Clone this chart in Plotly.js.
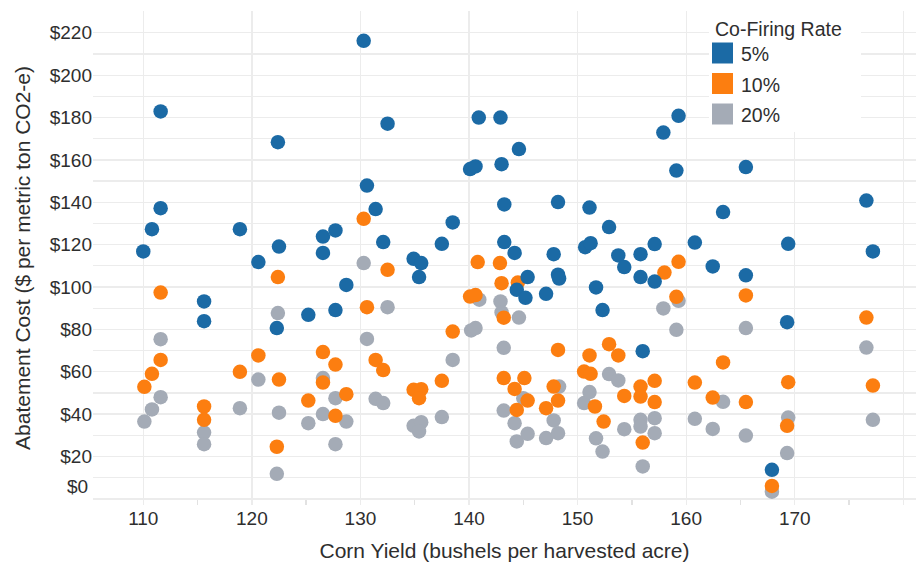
<!DOCTYPE html>
<html>
<head>
<meta charset="utf-8">
<script src="https://cdn.plot.ly/plotly-3.0.1.min.js"></script>
<style>html,body{margin:0;padding:0;background:#fff;}#chart{width:916px;height:565px;}</style>
</head>
<body>
<div id="chart"></div>
<script>
// ---- data ----
const seriesNames = ["5%", "10%", "20%"];
const seriesColors = ["#1b6aa5", "#fc7e10", "#a4abb6"];

const yield5 = [110.0,110.8,111.6,111.6,115.6,115.6,118.9,120.6,122.3,122.4,122.5,125.2,126.55,126.55,127.7,127.7,128.7,130.3,130.6,131.4,132.1,132.5,134.9,135.6,135.4,137.5,138.5,140.1,140.6,140.9,142.9,143.0,143.25,143.25,144.2,144.6,144.4,145.2,145.4,147.1,147.8,148.2,148.2,148.3,150.7,151.1,151.2,151.7,152.3,152.9,153.75,154.3,155.8,155.8,156.0,157.1,157.1,157.9,159.1,159.3,160.8,162.45,163.4,165.5,165.5,167.9,169.3,169.4,176.6,177.2];
const cost5  = [116.8,127.3,137.2,182.9,93.2,83.9,127.3,111.8,80.6,168.4,119.1,86.9,123.8,116.1,126.7,89.1,101.0,216.2,147.9,136.8,121.2,177.1,113.3,111.3,104.7,120.4,130.5,155.7,156.9,180.0,180.0,158.0,139.0,121.2,116.1,165.1,98.7,94.9,104.7,96.8,115.5,140.1,105.8,104.0,118.8,137.5,120.7,99.8,89.1,128.3,114.9,109.4,115.5,104.7,69.7,120.3,102.6,172.9,155.0,180.8,121.0,109.7,135.4,156.6,105.5,13.7,83.4,120.4,140.8,116.8];

const yield10 = [110.1,110.8,111.6,111.6,115.6,115.6,118.9,120.6,122.3,122.4,122.5,125.2,126.55,126.55,127.7,127.7,128.7,130.3,130.6,131.4,132.1,132.5,134.9,135.6,135.4,137.5,138.5,140.1,140.6,140.8,142.85,143.0,143.2,143.2,144.2,144.4,144.5,145.1,145.4,147.1,147.8,148.2,148.2,150.6,151.1,151.2,151.6,152.4,152.9,153.75,154.3,155.8,155.8,156.0,157.1,157.1,158.0,159.1,159.3,160.8,162.45,163.4,165.5,165.5,167.9,169.3,169.4,176.6,177.2];
const cost10  = [52.9,59.0,65.6,97.4,43.6,37.3,60.0,67.7,24.6,104.7,56.3,46.4,69.3,54.9,63.4,39.2,49.4,132.2,90.5,65.6,60.8,108.1,51.5,51.8,47.5,55.7,79.0,95.5,96.2,111.8,111.3,101.8,85.5,57.0,51.9,42.0,102.1,57.0,46.4,42.8,53.0,70.3,46.4,60.1,67.7,59.0,43.6,36.5,73.0,67.7,48.6,53.0,48.3,26.6,55.7,45.7,106.8,95.4,111.9,54.9,47.8,64.4,96.0,45.7,6.1,34.5,55.1,85.6,53.5];

const yield20 = [110.1,110.8,111.6,111.6,115.6,115.6,118.9,120.6,122.3,122.4,122.5,125.2,126.55,126.55,127.7,127.7,128.7,130.3,130.6,131.4,132.1,132.5,134.9,135.6,135.4,137.5,138.5,140.2,140.6,140.95,142.9,143.0,143.2,143.2,144.2,144.4,144.6,145.0,145.4,147.1,147.8,148.3,148.2,150.6,151.1,151.7,152.3,152.9,153.75,154.3,155.8,155.8,156.0,157.1,157.1,157.9,159.1,159.3,160.8,162.45,163.4,165.5,165.5,167.9,169.3,169.4,176.6,177.2];
const cost20  = [36.5,42.2,48.0,75.4,31.3,25.8,42.8,56.3,11.8,87.7,40.7,35.7,57.0,40.0,47.5,25.8,36.5,111.3,75.5,47.2,45.2,90.5,34.5,36.2,31.8,38.6,65.6,79.5,80.6,94.0,93.2,88.0,71.3,41.7,35.7,27.1,85.6,47.5,30.7,28.7,37.0,53.0,31.0,45.2,50.4,28.6,22.3,58.9,55.9,32.9,37.3,34.1,15.3,38.1,31.0,89.9,79.8,93.5,37.8,33.0,45.8,80.6,29.9,3.4,21.6,38.4,71.4,37.3];

const yTickVals = [20,40,60,80,100,120,140,160,180,200,220];
const yTickText = ["$20","$40","$60","$80","$100","$120","$140","$160","$180","$200","$220"];
const xTickVals = [110,120,130,140,150,160,170,180];
const xTickText = ["110","120","130","140","150","160","170","180"];
const legendTitle = "Co-Firing Rate";
const xTitle = "Corn Yield (bushels per harvested acre)";
const yTitle = "Abatement Cost ($ per metric ton CO2-e)";

// ---- chart ----
const FONT = "Arial, 'Liberation Sans', sans-serif";
const TXT = "#2e2e2e";
const GRID = "#ececec";
const L = 93, R = 0, T = 11, B = 60, W = 916, H = 565;
const pw = W - L - R, ph = H - T - B;
const px = v => (v - L) / pw;          // pixel -> paper x
const py = v => (H - B - v) / ph;      // pixel -> paper y

function mk(x, y, i) {
  return {
    type: "scatter", mode: "markers", x: x, y: y, name: seriesNames[i],
    marker: {color: seriesColors[i], size: 14.5, line: {width: 0}},
    showlegend: false, hoverinfo: "x+y+name"
  };
}
// draw 20% first, then 10%, then 5% on top
const traces = [mk(yield20, cost20, 2), mk(yield10, cost10, 1), mk(yield5, cost5, 0)];

const shapes = [
  {type: "rect", xref: "paper", yref: "paper", x0: px(709), x1: px(861), y0: py(132), y1: py(0),
   fillcolor: "#ffffff", line: {width: 0}, layer: "above"}
];
const annotations = [
  {xref: "paper", yref: "y", x: px(90), y: (499 - 487) / 2.118, text: "$0", showarrow: false,
   xanchor: "right", yanchor: "middle", font: {family: FONT, size: 19, color: TXT}},
  {xref: "paper", yref: "paper", x: px(713), y: py(29), text: legendTitle, showarrow: false,
   xanchor: "left", yanchor: "middle", font: {family: FONT, size: 19.5, color: TXT}}
];
const rowY = [53, 83.5, 114];
seriesNames.forEach((n, i) => {
  shapes.push({type: "rect", xref: "paper", yref: "paper",
    x0: px(712), x1: px(733), y0: py(rowY[i] + 10.5), y1: py(rowY[i] - 10.5),
    fillcolor: seriesColors[i], line: {width: 0}, layer: "above"});
  annotations.push({xref: "paper", yref: "paper", x: px(739), y: py(rowY[i] + 1), text: n,
    showarrow: false, xanchor: "left", yanchor: "middle",
    font: {family: FONT, size: 19.5, color: TXT}});
});

const layout = {
  width: W, height: H,
  margin: {l: L, r: R, t: T, b: B, pad: 0},
  paper_bgcolor: "#ffffff", plot_bgcolor: "#ffffff",
  font: {family: FONT, color: TXT},
  showlegend: false,
  xaxis: {
    range: [105.37, 181.17], tickmode: "array", tickvals: xTickVals, ticktext: xTickText,
    showgrid: true, gridcolor: GRID, gridwidth: 1.3, zeroline: false, showline: false,
    ticks: "", tickfont: {family: FONT, size: 19, color: TXT},
    minor: {tickmode: "linear", tick0: 105, dtick: 10, ticks: "inside", ticklen: 5, tickcolor: "#e2e2e2", tickwidth: 1.3, showgrid: false},
    title: {text: xTitle, font: {family: FONT, size: 21, color: TXT}, standoff: 15},
    automargin: false, fixedrange: true
  },
  yaxis: {
    range: [-2.9, 230.3], tickmode: "array", tickvals: yTickVals, ticktext: yTickText,
    showgrid: true, gridcolor: GRID, gridwidth: 1.3, zeroline: false, showline: false,
    ticks: "", tickfont: {family: FONT, size: 19, color: TXT},
    minor: {tickmode: "linear", tick0: 0, dtick: 10, showgrid: true, gridcolor: GRID, gridwidth: 1.3, ticks: ""},
    title: {text: yTitle, font: {family: FONT, size: 21, color: TXT}, standoff: 13},
    automargin: false, fixedrange: true
  },
  shapes: shapes,
  annotations: annotations
};

Plotly.newPlot("chart", traces, layout, {displayModeBar: false, staticPlot: true});
</script>
</body>
</html>
